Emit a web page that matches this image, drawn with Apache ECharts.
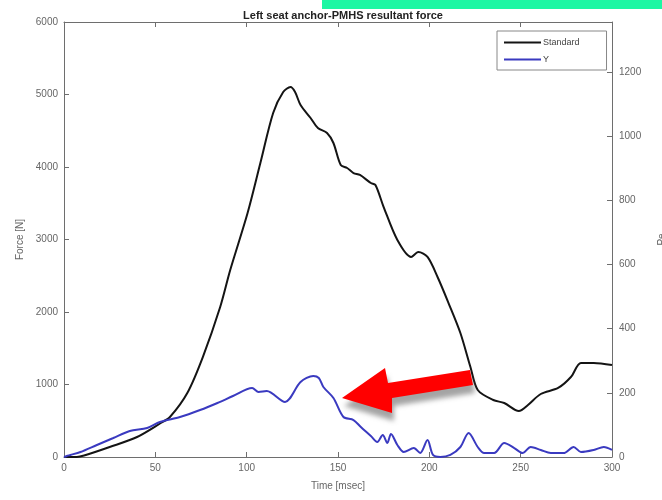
<!DOCTYPE html>
<html>
<head>
<meta charset="utf-8">
<script src="https://cdn.jsdelivr.net/npm/echarts@6/dist/echarts.min.js"></script>
<style>
  html, body { margin: 0; padding: 0; background: #fff; }
  #chart { width: 662px; height: 500px; }
</style>
</head>
<body>
<div id="chart"></div>
<script>
// Time samples (msec) and resultant force (N) for the standard anchor trace
var standardTime = [0, 7, 11, 25, 40, 53, 58, 67.5, 76, 85.5, 91, 100.5, 107.5, 114.5, 120, 124, 126.5, 129.5, 135, 139, 144, 147.5, 151.5, 155, 158.5, 162, 168, 170.5, 175, 182.5, 190, 194, 199, 204.5, 210.5, 217, 222.5, 226.5, 235, 241, 249, 254, 261, 270.5, 277.5, 283, 290, 300];
var standardForce = [0, 0, 20, 138, 276, 469, 552, 883, 1379, 2069, 2579, 3365, 4055, 4745, 5034, 5103, 5034, 4855, 4676, 4538, 4469, 4331, 4028, 3986, 3917, 3890, 3779, 3752, 3448, 2993, 2759, 2828, 2759, 2483, 2124, 1710, 1241, 924, 786, 745, 634, 717, 869, 952, 1103, 1297, 1297, 1269];

// Time samples (msec) and force (N) for the Y component
var yTime = [0, 1.5, 3.5, 9, 18, 27, 36, 45.5, 52.5, 63.5, 74.5, 84, 92.5, 103, 106.5, 111, 121, 129.5, 136.5, 139.5, 142, 147.5, 153, 158.5, 162.5, 168, 171.5, 174.5, 177, 179, 182.5, 186, 191.5, 195, 199, 202, 206, 211.5, 217, 221.5, 226.5, 230, 235.5, 241, 246.5, 251, 255.5, 261, 266.5, 273.5, 279, 283, 290, 295.5, 300];
var yForce = [0, 14, 28, 69, 166, 262, 359, 400, 483, 552, 648, 745, 841, 952, 897, 910, 759, 1034, 1117, 1090, 966, 814, 552, 510, 414, 290, 207, 303, 193, 317, 166, 69, 124, 55, 234, 28, 0, 28, 138, 331, 138, 55, 55, 193, 124, 55, 138, 97, 55, 55, 138, 69, 97, 138, 97];

var seriesNames = ['Standard', 'Y'];
var timeTicks = [0, 300, 50];        // min, max, step
var forceTicks = [0, 6000, 1000];    // min, max, step
var rightTicks = [0, 1356, 200];     // min, max, step

function pairs(xs, ys) {
  return xs.map(function (x, i) { return [x, ys[i]]; });
}

var axisGrey = '#6e6e6e';
var fontFamily = 'Liberation Sans, Arial, sans-serif';
var labelStyle = { color: '#666', fontSize: 10, fontFamily: fontFamily };
var plain = function (v) { return String(v); };

// Shared frame styling: every axis stays on the plot edge with inward ticks
function frame(extra) {
  return Object.assign({
    axisLine: { show: true, onZero: false, lineStyle: { color: axisGrey, width: 1 } },
    axisTick: { show: true, inside: true, length: 5, lineStyle: { color: axisGrey } },
    splitLine: { show: false }
  }, extra);
}

var chart = echarts.init(document.getElementById('chart'), null, { renderer: 'canvas' });

chart.setOption({
  animation: false,
  backgroundColor: '#ffffff',
  title: {
    text: 'Left seat anchor-PMHS resultant force',
    left: 338,
    top: 5,
    textAlign: 'center',
    textStyle: { fontSize: 11, fontWeight: 'bold', color: '#222', fontFamily: fontFamily }
  },
  legend: {
    data: seriesNames,
    orient: 'vertical',
    left: 497,
    top: 31,
    width: 110,
    padding: [7, 27, 6, 7],
    itemGap: 8,
    itemWidth: 37,
    itemHeight: 2,
    icon: 'rect',
    backgroundColor: '#fff',
    borderColor: '#888',
    borderWidth: 1,
    borderRadius: 0,
    textStyle: { fontSize: 9, color: '#444', padding: [0, 0, 0, -3], fontFamily: fontFamily },
    z: 10
  },
  grid: { left: 64, right: 50, top: 22, bottom: 43, containLabel: false, outerBoundsMode: 'none' },
  xAxis: [
    frame({
      type: 'value',
      min: timeTicks[0], max: timeTicks[1], interval: timeTicks[2],
      name: 'Time [msec]',
      nameLocation: 'middle',
      nameGap: 24,
      nameTextStyle: labelStyle,
      axisLabel: Object.assign({ margin: 6, formatter: plain }, labelStyle)
    }),
    frame({
      type: 'value',
      position: 'top',
      min: timeTicks[0], max: timeTicks[1], interval: timeTicks[2],
      axisLabel: { show: false }
    })
  ],
  yAxis: [
    frame({
      type: 'value',
      min: forceTicks[0], max: forceTicks[1], interval: forceTicks[2],
      name: 'Force [N]',
      nameLocation: 'middle',
      nameGap: 34,
      nameRotate: 90,
      nameTextStyle: labelStyle,
      axisLabel: Object.assign({ margin: 6, formatter: plain }, labelStyle)
    }),
    frame({
      type: 'value',
      position: 'right',
      min: rightTicks[0], max: rightTicks[1], interval: rightTicks[2],
      name: 'Pe',
      nameLocation: 'middle',
      nameGap: 45,
      nameRotate: 90,
      nameTextStyle: labelStyle,
      axisLabel: Object.assign({
        margin: 7,
        formatter: function (v) { return v % rightTicks[2] === 0 ? String(v) : ''; }
      }, labelStyle)
    })
  ],
  series: [
    {
      name: seriesNames[0],
      type: 'line',
      xAxisIndex: 0,
      yAxisIndex: 0,
      data: pairs(standardTime, standardForce),
      smooth: 0.3,
      symbol: 'none',
      lineStyle: { color: '#141414', width: 2 },
      itemStyle: { color: '#141414' }
    },
    {
      name: seriesNames[1],
      type: 'line',
      xAxisIndex: 0,
      yAxisIndex: 0,
      data: pairs(yTime, yForce),
      smooth: 0.3,
      symbol: 'none',
      lineStyle: { color: '#3a3ac0', width: 2 },
      itemStyle: { color: '#3a3ac0' }
    }
  ],
  graphic: [
    {
      // highlight strip along the upper edge
      type: 'rect',
      shape: { x: 322, y: 0, width: 340, height: 9 },
      style: { fill: '#1cf7a3' },
      z: 20
    },
    {
      // callout arrow pointing at the Y trace
      type: 'polygon',
      shape: {
        points: [[342, 398], [385, 368], [388, 383], [470, 370], [473, 385], [392, 398], [392, 413]]
      },
      style: {
        fill: '#ff0000',
        shadowColor: 'rgba(90,90,90,0.55)',
        shadowBlur: 5,
        shadowOffsetX: 2,
        shadowOffsetY: 8
      },
      z: 20
    }
  ]
});
</script>
</body>
</html>
